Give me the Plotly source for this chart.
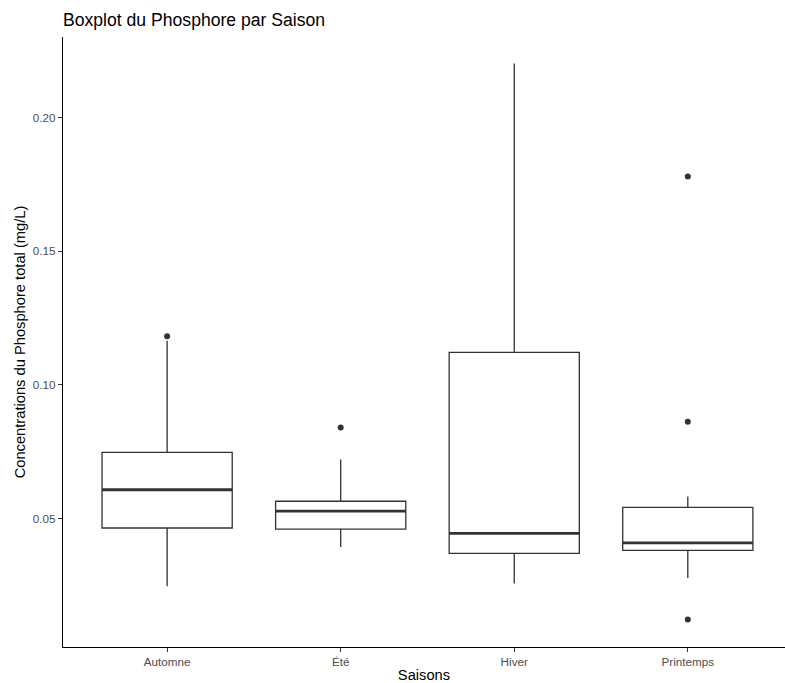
import plotly.graph_objects as go
import numpy as np

categories = ["Automne", "Été", "Hiver", "Printemps"]
q1 = [0.0465, 0.0461, 0.0370, 0.0381]
median = [0.0608, 0.0528, 0.0445, 0.0409]
q3 = [0.0748, 0.0565, 0.1122, 0.0542]
lowerfence = [0.0247, 0.0394, 0.0257, 0.0278]
upperfence = [0.1165, 0.0721, 0.2202, 0.0583]

outlier_cat = ["Automne", "Été", "Printemps", "Printemps", "Printemps"]
outlier_val = [0.1182, 0.0841, 0.1779, 0.0862, 0.0123]

y_ticks = [0.05, 0.10, 0.15, 0.20]

pos = {c: i + 1 for i, c in enumerate(categories)}
xpos = [pos[c] for c in categories]
box_w = 0.75
dark = "#333333"
font_fam = "Liberation Sans, Arial, sans-serif"

fig = go.Figure()
fig.add_trace(go.Box(
    x=xpos, q1=q1, median=median, q3=q3,
    lowerfence=lowerfence, upperfence=upperfence,
    width=box_w, whiskerwidth=0,
    fillcolor="white", line=dict(color=dark, width=1.3),
    boxpoints=False, showlegend=False, hoverinfo="skip",
))

# thicker median segments
mx, my = [], []
for p, m in zip(xpos, median):
    mx += [p - box_w / 2, p + box_w / 2, None]
    my += [m, m, None]
fig.add_trace(go.Scatter(x=mx, y=my, mode="lines",
                         line=dict(color=dark, width=2.8),
                         showlegend=False, hoverinfo="skip"))

fig.add_trace(go.Scatter(x=[pos[c] for c in outlier_cat], y=outlier_val,
                         mode="markers", marker=dict(color=dark, size=6),
                         showlegend=False, hoverinfo="skip"))

fig.update_layout(
    width=785, height=683,
    margin=dict(l=63, r=0, t=37, b=36),
    paper_bgcolor="white", plot_bgcolor="white",
    font=dict(family=font_fam, color="black"),
    title=dict(text="Boxplot du Phosphore par Saison",
               x=63 / 785, xanchor="left", xref="container",
               y=1 - 20 / 683, yanchor="middle", yref="container",
               font=dict(size=17.6, color="black", family=font_fam)),
    xaxis=dict(
        range=[0.4, 4.56], tickmode="array", tickvals=xpos, ticktext=categories,
        showline=True, linecolor="black", linewidth=1.1,
        ticks="outside", ticklen=4, tickcolor=dark, tickwidth=1,
        tickfont=dict(size=11.7, color="#4D4D4D"),
        showgrid=False, zeroline=False,
        title=dict(text="Saisons", font=dict(size=14.7, color="black"), standoff=4),
    ),
    yaxis=dict(
        range=[0.002, 0.2301], tickmode="array", tickvals=y_ticks,
        ticktext=[f"{v:.2f}" for v in y_ticks],
        showline=True, linecolor="black", linewidth=1.1,
        ticks="outside", ticklen=4, tickcolor=dark, tickwidth=1,
        tickfont=dict(size=11.7, color="#4D4D4D"),
        showgrid=False, zeroline=False,
        title=dict(text="Concentrations du Phosphore total (mg/L)",
                   font=dict(size=14.7, color="black"), standoff=3),
    ),
)

fig.write_html("out.html")
